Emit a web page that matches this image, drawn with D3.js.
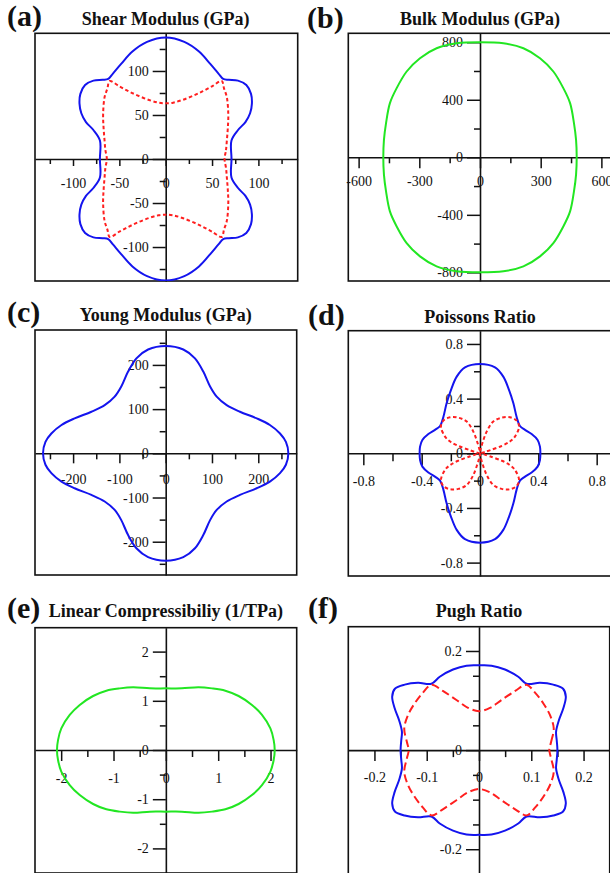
<!DOCTYPE html>
<html>
<head>
<meta charset="utf-8">
<script src="https://cdn.jsdelivr.net/npm/d3@7"></script>
<style>
  html, body { margin: 0; padding: 0; background: #fff; }
  svg { display: block; }
  text { font-family: "Liberation Serif", "Times New Roman", serif; fill: #111; }
</style>
</head>
<body>
<svg id="fig" width="610" height="873"></svg>
<script>
// Directional elastic properties of an orthotropic sheet. Every surface is
// symmetric about both in-plane axes, so each one is listed for the first
// quadrant only (angle in degrees from the x axis, value in the panel's unit).

// (a) Shear modulus, GPa
const shearMaxAngles = [0, 16.5, 22.9, 26.0, 29.7, 34.1, 38.8, 44.0, 48.8, 52.9, 55.7, 59.6, 66.0, 73.6, 81.4, 90];
const shearMax       = [71, 74.0, 84.7, 95.7, 104.8, 112.3, 118.1, 120.9, 118.3, 112.8, 110.1, 112.5, 118.2, 127.2, 134.5, 138];
const shearMinAngles = [0, 8.7, 18.4, 27.6, 36.5, 46.7, 51.8, 55.7, 58.8, 62.5, 67.4, 75.0, 82.9, 90];
const shearMin       = [63.5, 65.8, 69.6, 75.6, 84.0, 96.2, 101.8, 107.2, 96.5, 86.8, 78.0, 69.4, 64.5, 63.3];

// (b) Bulk modulus, GPa
const bulkAngles = [0, 14.3, 26.9, 40.2, 49.4, 58.7, 66.7, 74.2, 81.7, 90];
const bulk       = [478, 490, 521, 583, 633, 698, 750, 788, 801, 800];

// (c) Young's modulus, GPa
const youngAngles = [0, 5.7, 10.3, 15.9, 21.9, 30.4, 39.6, 49.3, 57.6, 66.3, 73.6, 80.8, 90];
const young       = [265, 261, 251, 234, 212, 186, 171, 169, 179, 202, 224, 238, 243];

// (d) Poisson's ratio
const poissonMaxAngles = [0, 6.8, 13.9, 21.7, 29.0, 36.1, 46.9, 58.0, 66.7, 74.1, 80.7, 90];
const poissonMax       = [0.414, 0.414, 0.407, 0.381, 0.353, 0.339, 0.367, 0.432, 0.504, 0.583, 0.637, 0.654];
const poissonMinAngles = [0, 10, 15, 18, 20, 23, 27, 36, 43.6, 52, 60.3, 68.6, 73.9, 77.6, 82, 90];
const poissonMin       = [0.005, 0.01, 0.03, 0.07, 0.16, 0.225, 0.269, 0.331, 0.347, 0.334, 0.30, 0.249, 0.165, 0.075, 0.03, 0.01];

// (e) Linear compressibility, 1/TPa
const compAngles = [0, 5.6, 12.4, 21.2, 29.1, 38.3, 46.7, 54.9, 63.9, 76.3, 90];
const comp       = [2.08, 2.07, 2.045, 1.97, 1.883, 1.771, 1.657, 1.531, 1.419, 1.29, 1.253];

// (f) Pugh ratio
const pughMaxAngles = [0, 7.6, 14.1, 21.4, 27.6, 33.0, 37.6, 42.9, 49.3, 55.8, 63.1, 73.0, 82.0, 90];
const pughMax       = [0.150, 0.150, 0.152, 0.164, 0.182, 0.198, 0.203, 0.194, 0.179, 0.162, 0.166, 0.170, 0.172, 0.171];
const pughMinAngles = [0, 6.9, 17.0, 27.4, 37.4, 47.3, 55.4, 59.9, 66.9, 76.2, 90];
const pughMin       = [0.1345, 0.139, 0.1495, 0.153, 0.155, 0.158, 0.160, 0.138, 0.110, 0.0878, 0.0786];

// Axis ticks: labelled (major) and unlabelled (minor)
const shearXMajor = [-100, -50, 0, 50, 100],   shearXMinor = [-125, -75, -25, 25, 75, 125];
const shearYMajor = [-100, -50, 0, 50, 100],   shearYMinor = [-125, -75, -25, 25, 75, 125];
const bulkXMajor  = [-600, -300, 0, 300, 600], bulkXMinor  = [-450, -150, 150, 450];
const bulkYMajor  = [-800, -400, 0, 400, 800], bulkYMinor  = [-600, -200, 200, 600];
const youngXMajor = [-200, -100, 0, 100, 200], youngXMinor = [-250, -150, -50, 50, 150, 250];
const youngYMajor = [-200, -100, 0, 100, 200], youngYMinor = [-250, -150, -50, 50, 150, 250];
const poisXMajor  = [-0.8, -0.4, 0, 0.4, 0.8], poisXMinor  = [-0.6, -0.2, 0.2, 0.6];
const poisYMajor  = [-0.8, -0.4, 0, 0.4, 0.8], poisYMinor  = [-0.6, -0.2, 0.2, 0.6];
const compXMajor  = [-2, -1, 0, 1, 2],         compXMinor  = [-1.5, -0.5, 0.5, 1.5];
const compYMajor  = [-2, -1, 0, 1, 2],         compYMinor  = [-1.5, -0.5, 0.5, 1.5];
const pughXMajor  = [-0.2, -0.1, 0, 0.1, 0.2], pughXMinor  = [-0.15, -0.05, 0.05, 0.15];
const pughYMajor  = [-0.2, 0, 0.2],            pughYMinor  = [-0.15, -0.1, -0.05, 0.05, 0.1, 0.15];

const BLUE = "#1414ee", RED = "#ff1f1f", GREEN = "#22e622";

const panels = [
  { letter: "(a)", title: "Shear Modulus (GPa)", letterPos: [7, 26], titleY: 25,
    box: [35, 297.7, 33.3, 281], xDom: [-141, 142.4], yDom: [-138.6, 142.8],
    xMajor: shearXMajor, xMinor: shearXMinor, yMajor: shearYMajor, yMinor: shearYMinor,
    xTick: [7, 5], xLabelOff: 24,
    curves: [
      { a: shearMaxAngles, r: shearMax, color: BLUE },
      { a: shearMinAngles, r: shearMin, color: RED, dash: "3.5,2.6" }
    ] },
  { letter: "(b)", title: "Bulk Modulus (GPa)", letterPos: [307, 28], titleY: 25,
    box: [348.3, 611.7, 33.3, 281], xDom: [-651, 651], yDom: [-860, 862],
    xMajor: bulkXMajor, xMinor: bulkXMinor, yMajor: bulkYMajor, yMinor: bulkYMinor,
    xTick: [11, 6], xLabelOff: 24,
    curves: [ { a: bulkAngles, r: bulk, color: GREEN } ] },
  { letter: "(c)", title: "Young Modulus (GPa)", letterPos: [7, 322], titleY: 321,
    box: [35, 296.7, 330, 575], xDom: [-282.3, 283], yDom: [-275.3, 279],
    xMajor: youngXMajor, xMinor: youngXMinor, yMajor: youngYMajor, yMinor: youngYMinor,
    xTick: [10, 6], xLabelOff: 26,
    curves: [ { a: youngAngles, r: young, color: BLUE } ] },
  { letter: "(d)", title: "Poissons Ratio", letterPos: [308, 325], titleY: 323,
    box: [348.3, 611.7, 330.7, 576], xDom: [-0.903, 0.903], yDom: [-0.898, 0.897],
    xMajor: poisXMajor, xMinor: poisXMinor, yMajor: poisYMajor, yMinor: poisYMinor,
    xTick: [12, 8], xLabelOff: 28,
    curves: [
      { a: poissonMaxAngles, r: poissonMax, color: BLUE },
      { a: poissonMinAngles, r: poissonMin, color: RED, dash: "3.5,2.6" }
    ] },
  { letter: "(e)", title: "Linear Compressibiliy (1/TPa)", letterPos: [7, 618], titleY: 617,
    box: [35, 296.7, 627.7, 873], xDom: [-2.5, 2.5], yDom: [-2.5, 2.486],
    xMajor: compXMajor, xMinor: compXMinor, yMajor: compYMajor, yMinor: compYMinor,
    xTick: [11, 7], xLabelOff: 28,
    curves: [ { a: compAngles, r: comp, color: GREEN } ] },
  { letter: "(f)", title: "Pugh Ratio", letterPos: [308, 618], titleY: 617,
    box: [348.3, 609.7, 626.7, 874], xDom: [-0.25, 0.25], yDom: [-0.25, 0.249],
    xMajor: pughXMajor, xMinor: pughXMinor, yMajor: pughYMajor, yMinor: pughYMinor,
    xTick: [11, 7], xLabelOff: 27,
    curves: [
      { a: pughMaxAngles, r: pughMax, color: BLUE },
      { a: pughMinAngles, r: pughMin, color: RED, dash: "8,4" }
    ] }
];

// Unfold a first-quadrant listing into a closed loop around the origin.
function fullTurn(angles, radii) {
  const q = angles.map((a, i) => ({ a: a, r: radii[i] }));
  const pts = [];
  q.forEach(p => pts.push(p));
  q.slice(0, -1).reverse().forEach(p => pts.push({ a: 180 - p.a, r: p.r }));
  q.slice(1).forEach(p => pts.push({ a: 180 + p.a, r: p.r }));
  q.slice(1, -1).reverse().forEach(p => pts.push({ a: 360 - p.a, r: p.r }));
  return pts;
}

const svg = d3.select("#fig");
const fmt = v => String(v);

panels.forEach((p, idx) => {
  const [x0, x1, y0, y1] = p.box;
  const x = d3.scaleLinear().domain(p.xDom).range([x0, x1]);
  const y = d3.scaleLinear().domain(p.yDom).range([y1, y0]);
  const g = svg.append("g");

  const clipId = "clip" + idx;
  svg.append("clipPath").attr("id", clipId)
    .append("rect").attr("x", x0).attr("y", y0).attr("width", x1 - x0).attr("height", y1 - y0);

  // frame
  g.append("rect").attr("x", x0).attr("y", y0).attr("width", x1 - x0).attr("height", y1 - y0)
    .attr("fill", "none").attr("stroke", "#111").attr("stroke-width", 1.6);

  // x axis through the origin
  const gx = g.append("g").attr("transform", `translate(0,${y(0)})`)
    .call(d3.axisBottom(x).tickValues(p.xMajor).tickFormat(fmt).tickSize(p.xTick[0]).tickSizeOuter(0));
  gx.selectAll("text").attr("y", p.xLabelOff).attr("dy", "0.33em");
  g.append("g").attr("transform", `translate(0,${y(0)})`)
    .call(d3.axisBottom(x).tickValues(p.xMinor).tickFormat("").tickSize(p.xTick[1]).tickSizeOuter(0))
    .select(".domain").remove();

  // y axis through the origin
  g.append("g").attr("transform", `translate(${x(0)},0)`)
    .call(d3.axisLeft(y).tickValues(p.yMajor).tickFormat(fmt).tickSize(13).tickSizeOuter(0).tickPadding(4));
  g.append("g").attr("transform", `translate(${x(0)},0)`)
    .call(d3.axisLeft(y).tickValues(p.yMinor).tickFormat("").tickSize(6).tickSizeOuter(0))
    .select(".domain").remove();

  g.selectAll(".domain").attr("stroke", "#111").attr("stroke-width", 1.6);
  g.selectAll(".tick line").attr("stroke", "#111").attr("stroke-width", 1.5);
  g.selectAll(".tick text").attr("font-family", "Liberation Serif, serif")
    .attr("font-size", 14).attr("fill", "#111");

  // directional surfaces
  const line = d3.line()
    .x(d => x(d.r * Math.cos(d.a * Math.PI / 180)))
    .y(d => y(d.r * Math.sin(d.a * Math.PI / 180)))
    .curve(d3.curveCatmullRomClosed.alpha(0.5));
  p.curves.forEach(c => {
    g.append("path").datum(fullTurn(c.a, c.r))
      .attr("clip-path", `url(#${clipId})`)
      .attr("d", line)
      .attr("fill", "none")
      .attr("stroke", c.color)
      .attr("stroke-width", 2)
      .attr("stroke-dasharray", c.dash || null);
  });

  // title and panel letter
  g.append("text").attr("x", x(0)).attr("y", p.titleY)
    .attr("text-anchor", "middle").attr("font-weight", "bold").attr("font-size", 18)
    .text(p.title);
  g.append("text").attr("x", p.letterPos[0]).attr("y", p.letterPos[1])
    .attr("font-weight", "bold").attr("font-size", 30)
    .text(p.letter);
});
</script>
</body>
</html>
